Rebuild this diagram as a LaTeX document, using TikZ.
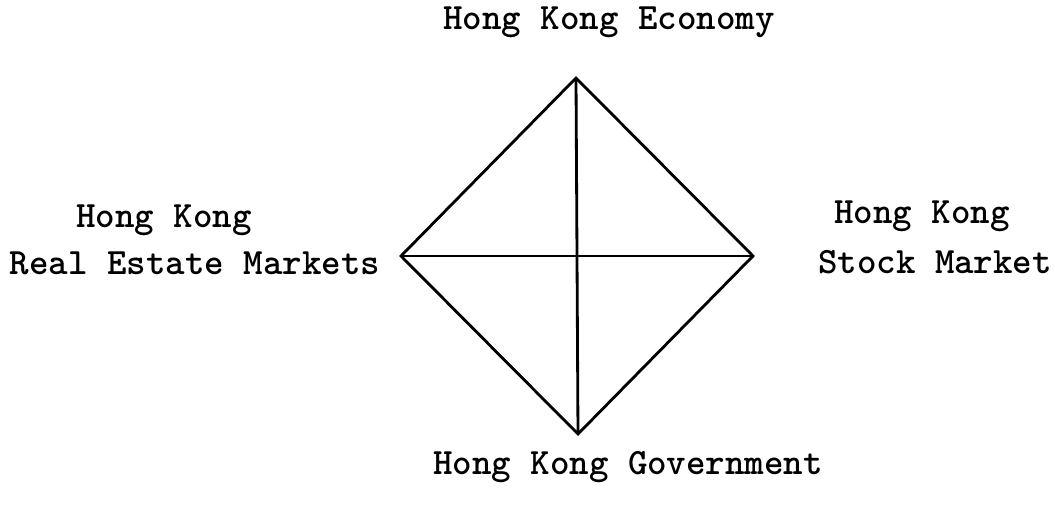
\documentclass[tikz,border=0pt]{standalone}
\usepackage{fontspec}
\usetikzlibrary{positioning}

\begin{document}
\begin{tikzpicture}
[-,line width=2pt,x=0.025cm,y=-0.025cm,%
  every node/.style={inner sep=0pt,font=\ttfamily\bfseries\fontsize{26.4}{30}\selectfont}]
\useasboundingbox (0,0) rectangle (1055,507);
% corners of the diamond
\coordinate (top) at (576,78);
\coordinate (left) at (401,256);
\coordinate (right) at (753,256);
\coordinate (bottom) at (578,434);
\draw[line join=miter] (top) -- (right) -- (bottom) -- (left) -- cycle;
\draw (top) -- (bottom);
\draw (left) -- (right);
% labels
\node (economy) at (609,22) {Hong Kong Economy};
\node (realhk) at (164,220) {Hong Kong};
\node (realmk) at (195,263) {Real Estate Markets};
\node (stockhk) at (922,216) {Hong Kong};
\node (stockmk) at (935,262) {Stock Market};
\node (govt) at (628,467) {Hong Kong Government};
\end{tikzpicture}
\end{document}
